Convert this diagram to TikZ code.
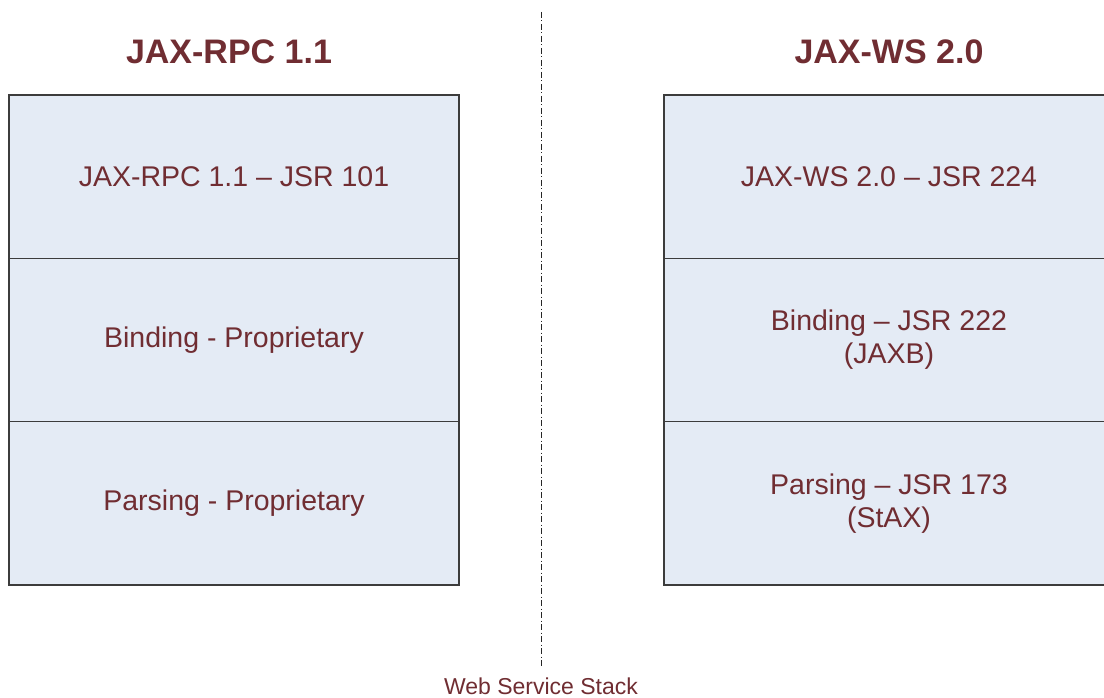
\documentclass[tikz,border=0pt]{standalone}
\usepackage{fontspec}
\setmainfont{Liberation Sans}
\definecolor{txt}{RGB}{112,45,50}
\definecolor{cellfill}{RGB}{228,235,245}
\definecolor{cellline}{RGB}{60,60,60}
\begin{document}
\begin{tikzpicture}[x=1pt,y=-1pt,
  cell/.style={draw=cellline, line width=1.1pt, fill=cellfill, minimum width=450pt, minimum height=163.3pt,
    inner sep=0pt, outer sep=0pt, text=txt, align=center, font=\fontsize{28.5}{33}\selectfont},
  title/.style={text=txt, font=\fontsize{34}{40}\selectfont\bfseries},
  divider/.style={line width=0.9pt, dash pattern=on 6pt off 2.5pt on 1pt off 2.5pt, black!85}]
\clip (0,0) rectangle (1104,698);
\fill[white] (0,0) rectangle (1104,698);
% left stack
\node[cell] (l1) at (234,176.7) {JAX-RPC 1.1 – JSR 101};
\node[cell] (l2) at (234,340) {Binding - Proprietary};
\node[cell] (l3) at (234,503.3) {Parsing - Proprietary};
% right stack
\node[cell] (r1) at (889,176.7) {JAX-WS 2.0 – JSR 224};
\node[cell] (r2) at (889,340) {Binding – JSR 222\\(JAXB)};
\node[cell] (r3) at (889,503.3) {Parsing – JSR 173\\(StAX)};
% titles
\node[title] (tl) at (229,52) {JAX-RPC 1.1};
\node[title] (tr) at (889,52) {JAX-WS 2.0};
% divider
\coordinate (dtop) at (541,12);
\coordinate (dbot) at (541,666);
\draw[divider] (dtop) -- (dbot);
\node[text=txt, font=\fontsize{23}{27}\selectfont] (cap) at (541,686) {Web Service Stack};
\end{tikzpicture}
\end{document}
